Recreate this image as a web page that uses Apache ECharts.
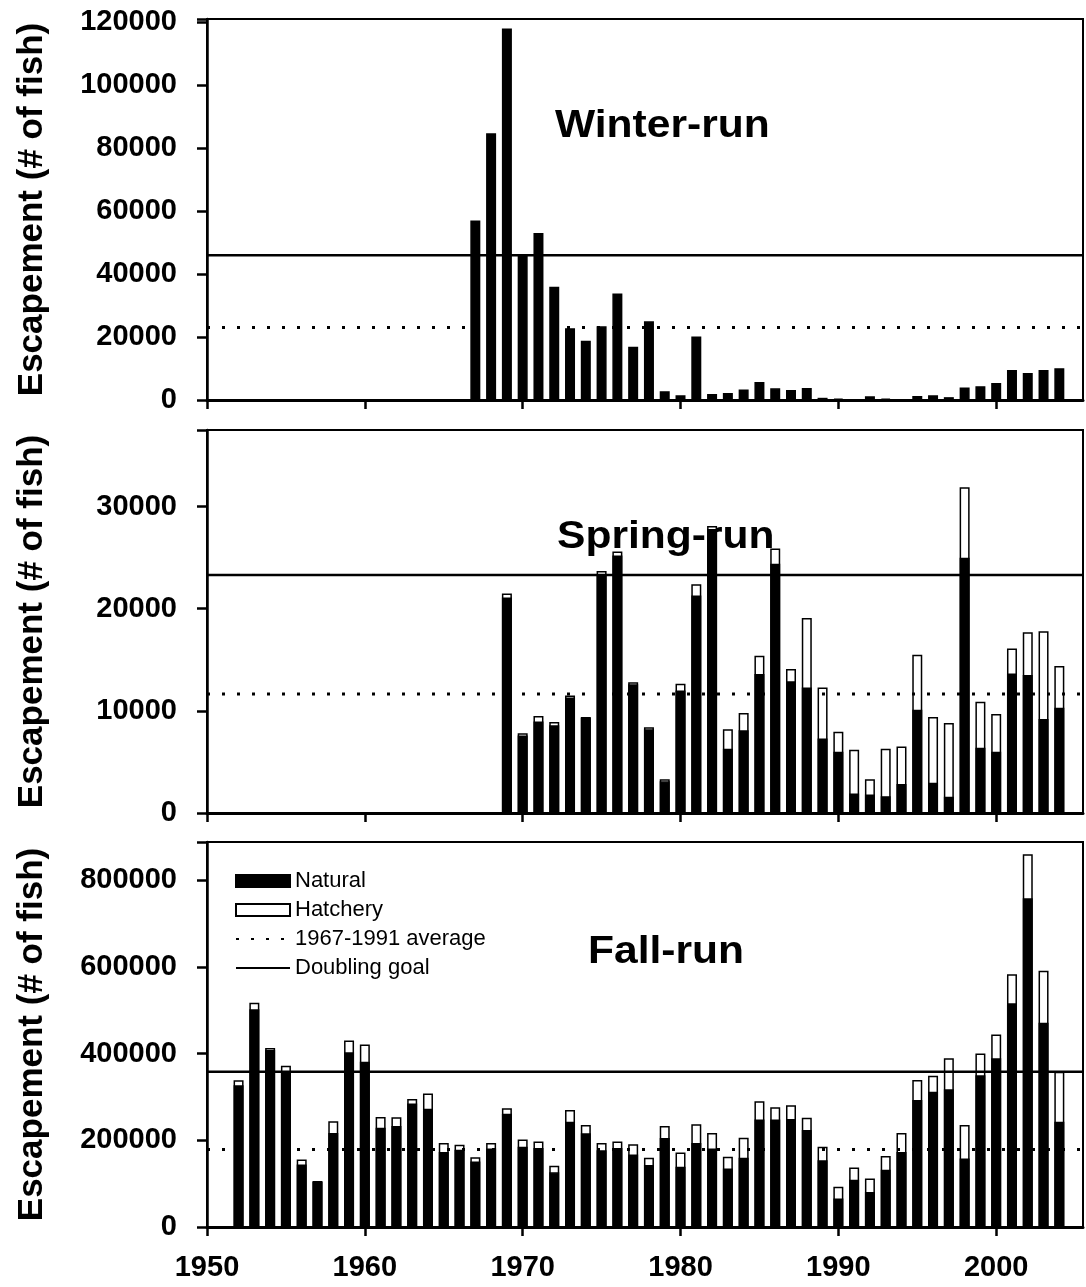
<!DOCTYPE html>
<html>
<head>
<meta charset="utf-8">
<script src="https://cdn.jsdelivr.net/npm/echarts@6/dist/echarts.min.js"></script>
<style>
html,body{margin:0;padding:0;background:#fff;}
#chart{width:1086px;height:1287px;}
</style>
</head>
<body>
<div id="chart"></div>
<script>
// ---------- data ----------
const xTicks = [1950, 1960, 1970, 1980, 1990, 2000];

const winterYears = [1967,1968,1969,1970,1971,1972,1973,1974,1975,1976,1977,1978,1979,1980,1981,1982,1983,1984,1985,1986,1987,1988,1989,1990,1991,1992,1993,1994,1995,1996,1997,1998,1999,2000,2001,2002,2003,2004];
const winterNatural = [57000,84700,118000,45800,53000,36000,22800,18800,23400,33800,16900,25000,2800,1500,20200,1900,2200,3300,5700,3700,3200,3800,700,400,200,1200,400,200,1300,1500,900,4000,4400,5400,9500,8600,9500,10100];
const winterAverage = 23000;
const winterGoal = 46000;

const springYears = [1969,1970,1971,1972,1973,1974,1975,1976,1977,1978,1979,1980,1981,1982,1983,1984,1985,1986,1987,1988,1989,1990,1991,1992,1993,1994,1995,1996,1997,1998,1999,2000,2001,2002,2003,2004];
const springNatural = [21100,7600,8950,8600,11300,9300,23300,25200,12600,8200,3100,12000,21300,27800,6300,8100,13600,24400,12900,12300,7300,6000,1900,1800,1650,2850,10100,2950,1600,25000,6400,6000,13650,13500,9200,10300];
const springHatchery = [400,200,550,300,200,100,400,400,200,200,200,650,1100,300,1900,1700,1800,1500,1200,6800,5000,1950,4300,1500,4650,3650,5400,6450,7200,6900,4500,3700,2450,4200,8600,4100];
const springAverage = 11650;
const springGoal = 23300;

const fallYears = [1952,1953,1954,1955,1956,1957,1958,1959,1960,1961,1962,1963,1964,1965,1966,1967,1968,1969,1970,1971,1972,1973,1974,1975,1976,1977,1978,1979,1980,1981,1982,1983,1984,1985,1986,1987,1988,1989,1990,1991,1992,1993,1994,1995,1996,1997,1998,1999,2000,2001,2002,2003,2004];
const fallNatural = [327000,502000,408000,358000,144000,104000,217000,403000,381000,229000,233000,285000,273000,173000,178000,151000,181000,261000,185000,182000,126000,243000,216000,177000,182000,167000,143000,205000,139000,194000,181000,135000,160000,248000,248000,249000,224000,154000,66000,109000,81000,132000,173000,293000,312000,318000,158000,350000,389000,516000,758000,471000,243000];
const fallHatchery = [11500,15000,5000,14000,11500,2000,27000,27000,40000,25000,20000,10000,35000,21000,11500,10000,13000,13000,17000,15000,15000,27000,19000,17000,15000,24000,17000,28000,33000,43000,36000,27000,46000,42000,28000,32000,28000,31000,27000,28000,31000,32000,44000,46000,37000,71000,77000,50000,55000,67000,102000,120000,115000];
const fallAverage = 179000;
const fallGoal = 358000;

const panelTitles = ['Winter-run', 'Spring-run', 'Fall-run'];
const yName = 'Escapement (# of fish)';
const legendNames = ['Natural', 'Hatchery', '1967-1991 average', 'Doubling goal'];

// ---------- layout ----------
const FONT = '"Liberation Sans", Arial, Helvetica, sans-serif';
const xMin = 1950, xMax = 2005.5;
const grids = [
  {left: 207, width: 876, top: 19, height: 381},
  {left: 207, width: 876, top: 430, height: 383},
  {left: 207, width: 876, top: 842, height: 385}
];
const yMax = [121000, 37500, 888000];
const yInt = [20000, 10000, 200000];

function pairs(xs, ys) { return xs.map((x, i) => [x, ys[i]]); }
function sumPairs(xs, a, b) { return xs.map((x, i) => [x, a[i] + b[i]]); }

const gridOpts = grids.map(g => Object.assign({show: true, borderColor: '#000', borderWidth: 2, backgroundColor: 'transparent'}, g));

const xAxes = grids.map((g, i) => ({
  type: 'value', gridIndex: i, min: xMin, max: xMax, interval: 10,
  splitLine: {show: false},
  axisLine: {show: true, onZero: false, lineStyle: {color: '#000', width: 3}},
  axisTick: {show: true, inside: false, length: 9, lineStyle: {color: '#000', width: 2.5},
    customValues: xTicks},
  axisLabel: {show: i === 2, customValues: xTicks, margin: 26, color: '#000',
    fontFamily: FONT, fontWeight: 'bold', fontSize: 29,
    formatter: v => String(v)}
}));

const yAxes = grids.map((g, i) => ({
  type: 'value', gridIndex: i, min: 0, max: yMax[i], interval: yInt[i],
  name: yName, nameLocation: 'middle', nameGap: 157,
  nameTextStyle: {color: '#000', fontFamily: FONT, fontWeight: 'bold', fontSize: 35},
  splitLine: {show: false},
  axisLine: {show: true, lineStyle: {color: '#000', width: 2.5}},
  axisTick: {show: true, length: 10, lineStyle: {color: '#000', width: 2.5}},
  axisLabel: {margin: 30, color: '#000', fontFamily: FONT, fontWeight: 'bold', fontSize: 29,
    formatter: v => (v % yInt[i] === 0 ? String(v) : '')}
}));

// Hatchery is drawn as the full (natural + hatchery) bar in white, natural overlaid in black
function barSeries(name, gi, data, fill, z) {
  return {
    name: name, type: 'bar', xAxisIndex: gi, yAxisIndex: gi,
    barWidth: 10, barGap: '-100%', data: data, z: z,
    itemStyle: {color: fill, borderColor: '#000', borderWidth: 1.5}
  };
}
function refLine(name, gi, val, dotted) {
  return {
    name: name, type: 'line', xAxisIndex: gi, yAxisIndex: gi, symbol: 'none', z: 5,
    silent: true, animation: false, color: '#000',
    itemStyle: {color: '#000'},
    data: [[xMin, val], [xMax, val]],
    lineStyle: dotted ? {color: '#000', width: 3, type: [3, 12], cap: 'butt'}
                      : {color: '#000', width: 2.5, type: 'solid'}
  };
}

const series = [
  barSeries('Natural', 0, pairs(winterYears, winterNatural), '#000', 3),
  refLine('1967-1991 average', 0, winterAverage, true),
  refLine('Doubling goal', 0, winterGoal, false),

  barSeries('Hatchery', 1, sumPairs(springYears, springNatural, springHatchery), '#fff', 2),
  barSeries('Natural', 1, pairs(springYears, springNatural), '#000', 3),
  refLine('1967-1991 average', 1, springAverage, true),
  refLine('Doubling goal', 1, springGoal, false),

  barSeries('Hatchery', 2, sumPairs(fallYears, fallNatural, fallHatchery), '#fff', 2),
  barSeries('Natural', 2, pairs(fallYears, fallNatural), '#000', 3),
  refLine('1967-1991 average', 2, fallAverage, true),
  refLine('Doubling goal', 2, fallGoal, false)
];

const titlePos = [[555, 127], [557, 538], [588, 953]];
const graphic = panelTitles.map((t, i) => ({
  type: 'text', x: titlePos[i][0], y: titlePos[i][1], scaleX: 1.12, z: 1,
  style: {text: t, fill: '#000', font: 'bold 38px ' + FONT, align: 'left', verticalAlign: 'middle'}
}));

const chart = echarts.init(document.getElementById('chart'), null, {renderer: 'canvas'});
chart.setOption({
  animation: false,
  backgroundColor: '#fff',
  grid: gridOpts,
  xAxis: xAxes,
  yAxis: yAxes,
  legend: {
    orient: 'vertical', left: 230, top: 865, itemWidth: 54, itemHeight: 12, itemGap: 7,
    selectedMode: false,
    textStyle: {color: '#000', fontFamily: FONT, fontSize: 22},
    data: [
      {name: legendNames[0], icon: 'rect'},
      {name: legendNames[1], icon: 'rect'},
      {name: legendNames[2], itemStyle: {opacity: 0}},
      {name: legendNames[3], itemStyle: {opacity: 0}}
    ]
  },
  graphic: graphic,
  series: series
});
</script>
</body>
</html>
